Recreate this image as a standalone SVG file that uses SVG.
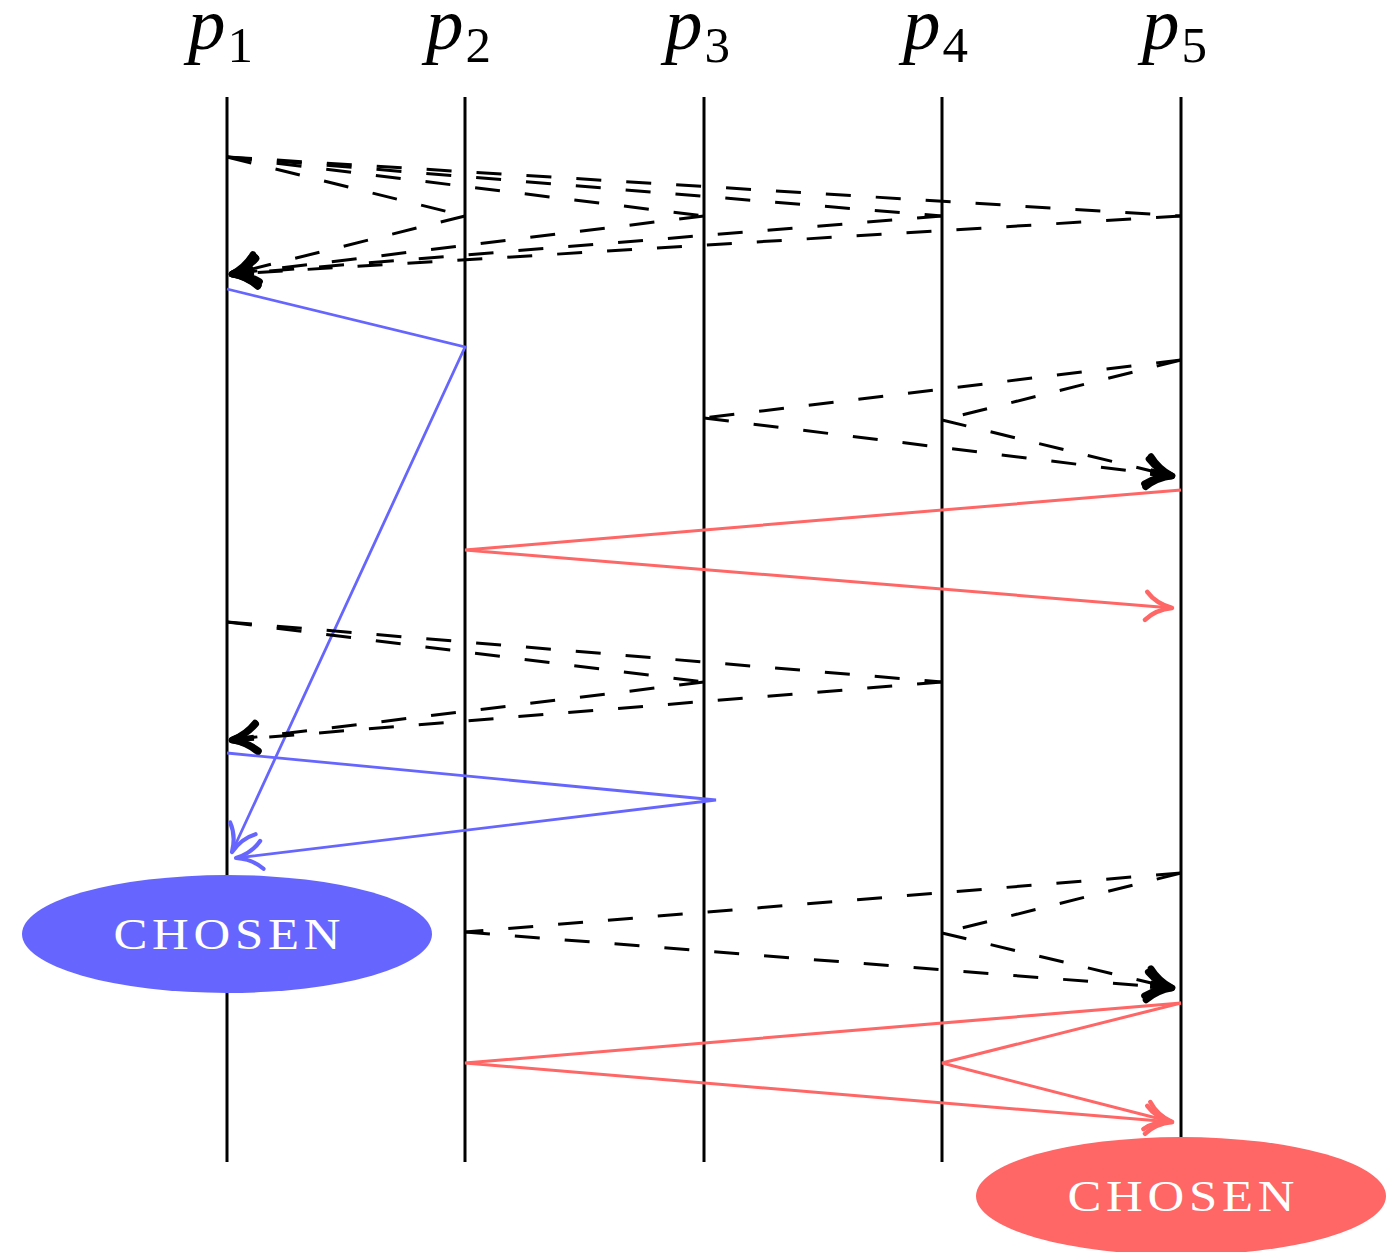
<svg xmlns="http://www.w3.org/2000/svg" width="1389" height="1252" viewBox="0 0 1389 1252">
<style>
.life{stroke:#000;stroke-width:3;fill:none}
.dash{stroke:#000;stroke-width:3;fill:none;stroke-dasharray:25 25}
.red{stroke:#FF6666;stroke-width:3;fill:none}
.blue{stroke:#6666FF;stroke-width:2.8;fill:none}
.lbl{font-family:"Liberation Serif",serif;font-style:italic;font-size:75px;fill:#000}
.sub{font-style:normal;font-size:51px}
.chosen{font-family:"Liberation Serif",serif;font-size:45px;fill:#fff;text-anchor:middle}
</style>
<defs>
<marker id="ak" markerUnits="userSpaceOnUse" viewBox="-34 -20 38 40" markerWidth="38" markerHeight="40" refX="0" refY="0" orient="auto" overflow="visible">
<path d="M-25,-14 C-17,-6 -8,-2 0,0 C-8,2 -17,6 -25,14" fill="none" stroke="#000" stroke-width="6.5" stroke-linecap="round" stroke-linejoin="round"/>
<path d="M-22,0 L0,0" stroke="#000" stroke-width="5"/>
</marker>
<marker id="ar" markerUnits="userSpaceOnUse" viewBox="-34 -20 38 40" markerWidth="38" markerHeight="40" refX="0" refY="0" orient="auto" overflow="visible">
<path d="M-26,-14 C-18,-5 -8,-1.5 0,0 C-8,1.5 -18,5 -26,14" fill="none" stroke="#FF6666" stroke-width="4.5" stroke-linecap="round" stroke-linejoin="round"/>
</marker>
<marker id="ab" markerUnits="userSpaceOnUse" viewBox="-34 -20 38 40" markerWidth="38" markerHeight="40" refX="0" refY="0" orient="auto" overflow="visible">
<path d="M-26,-14 C-18,-5 -8,-1.5 0,0 C-8,1.5 -18,5 -26,14" fill="none" stroke="#6666FF" stroke-width="4.2" stroke-linecap="round" stroke-linejoin="round"/>
</marker>
</defs>
<rect width="1389" height="1252" fill="#fff"/>
<g id="p1"><text class="lbl" x="188" y="49">p<tspan class="sub" dx="2" dy="13">1</tspan></text><line class="life" x1="227" y1="97" x2="227" y2="1162"/></g>
<g id="p2"><text class="lbl" x="426" y="49">p<tspan class="sub" dx="2" dy="13">2</tspan></text><line class="life" x1="465" y1="97" x2="465" y2="1162"/></g>
<g id="p3"><text class="lbl" x="665" y="49">p<tspan class="sub" dx="2" dy="13">3</tspan></text><line class="life" x1="704" y1="97" x2="704" y2="1162"/></g>
<g id="p4"><text class="lbl" x="903" y="49">p<tspan class="sub" dx="2" dy="13">4</tspan></text><line class="life" x1="942" y1="97" x2="942" y2="1162"/></g>
<g id="p5"><text class="lbl" x="1142" y="49">p<tspan class="sub" dx="2" dy="13">5</tspan></text><line class="life" x1="1181" y1="97" x2="1181" y2="1137"/></g>
<g id="connectors">
<line class="dash" x1="227" y1="157" x2="465" y2="216"/>
<line class="dash" x1="227" y1="157" x2="704" y2="216"/>
<line class="dash" x1="227" y1="157" x2="942" y2="216"/>
<line class="dash" x1="227" y1="157" x2="1181" y2="216"/>
<line class="dash" x1="465" y1="216" x2="232" y2="274" marker-end="url(#ak)"/>
<line class="dash" x1="704" y1="216" x2="232" y2="274" marker-end="url(#ak)"/>
<line class="dash" x1="942" y1="216" x2="232" y2="274" marker-end="url(#ak)"/>
<line class="dash" x1="1181" y1="216" x2="232" y2="274" marker-end="url(#ak)"/>
<polyline class="blue" points="227,289 465,347 232,852" marker-end="url(#ab)"/>
<line class="dash" x1="1181" y1="360" x2="704" y2="418"/>
<line class="dash" x1="1181" y1="360" x2="942" y2="420"/>
<line class="dash" x1="704" y1="418" x2="1172" y2="476" marker-end="url(#ak)"/>
<line class="dash" x1="942" y1="420" x2="1172" y2="476" marker-end="url(#ak)"/>
<polyline class="red" points="1181,490 465,550 1172,608" marker-end="url(#ar)"/>
<line class="dash" x1="227" y1="622" x2="704" y2="682"/>
<line class="dash" x1="227" y1="622" x2="942" y2="682"/>
<line class="dash" x1="704" y1="682" x2="232" y2="740" marker-end="url(#ak)"/>
<line class="dash" x1="942" y1="682" x2="232" y2="740" marker-end="url(#ak)"/>
<polyline class="blue" points="227,753 716,800 236,858" marker-end="url(#ab)"/>
<line class="dash" x1="1181" y1="873" x2="465" y2="932"/>
<line class="dash" x1="1181" y1="873" x2="942" y2="933"/>
<line class="dash" x1="465" y1="932" x2="1172" y2="988" marker-end="url(#ak)"/>
<line class="dash" x1="942" y1="933" x2="1172" y2="988" marker-end="url(#ak)"/>
<polyline class="red" points="1181,1003 465,1063 1172,1122" marker-end="url(#ar)"/>
<polyline class="red" points="1181,1003 942,1063 1172,1122" marker-end="url(#ar)"/>
</g>
<g id="chosen-blue"><ellipse cx="227" cy="934" rx="205" ry="59" fill="#6666FF"/><text class="chosen" transform="translate(227,949) scale(1.13,1)" x="0" y="0" textLength="201" lengthAdjust="spacing">CHOSEN</text></g>
<g id="chosen-red"><ellipse cx="1181" cy="1196" rx="205" ry="59" fill="#FF6666"/><text class="chosen" transform="translate(1181,1211) scale(1.13,1)" x="0" y="0" textLength="201" lengthAdjust="spacing">CHOSEN</text></g>
</svg>
